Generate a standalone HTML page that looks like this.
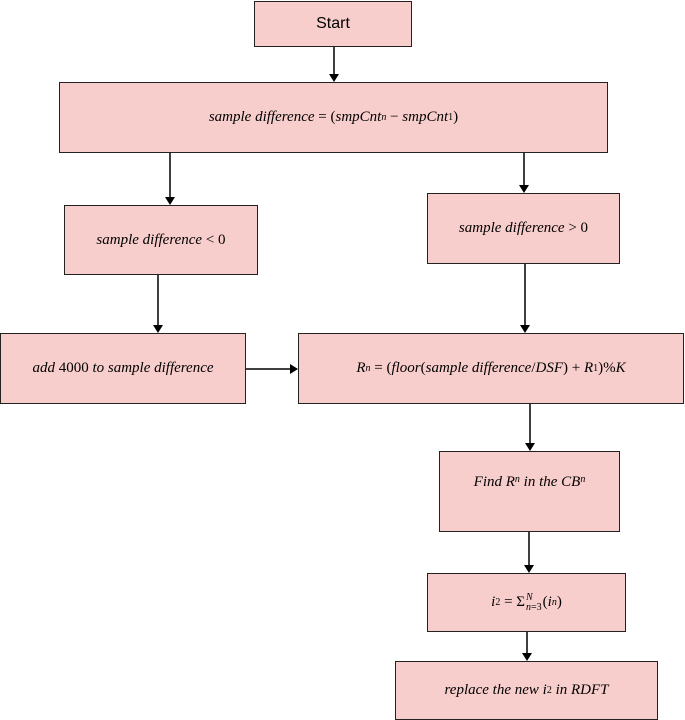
<!DOCTYPE html>
<html><head><style>
body{margin:0;width:685px;height:720px;background:#fff;position:relative;overflow:hidden;font-family:"Liberation Serif",serif;}
.b{position:absolute;box-sizing:border-box;background:#f8cecc;border:1.5px solid #222;display:flex;align-items:center;justify-content:center;font-style:italic;font-size:15px;color:#000;white-space:nowrap;}
</style></head><body>
<div class="b" style="left:254px;top:1px;width:158px;height:46px;font-style:normal;font-family:'Liberation Sans',sans-serif;font-size:16px">Start</div>
<div class="b" style="left:59px;top:82px;width:549px;height:71px">sample difference&nbsp;<span style="font-style:normal">=</span>&nbsp;<span style="font-style:normal">(</span>smpCnt<sub style="font-size:10px">n</sub>&nbsp;<span style="font-style:normal">−</span>&nbsp;smpCnt<sub style="font-size:10px;font-style:normal">1</sub><span style="font-style:normal">)</span></div>
<div class="b" style="left:64px;top:205px;width:194px;height:70px">sample difference&nbsp;<span style="font-style:normal">&lt; 0</span></div>
<div class="b" style="left:427px;top:193px;width:193px;height:71px">sample difference&nbsp;<span style="font-style:normal">&gt; 0</span></div>
<div class="b" style="left:0px;top:333px;width:246px;height:71px">add&nbsp;<span style="font-style:normal">4000</span>&nbsp;to sample difference</div>
<div class="b" style="left:298px;top:333px;width:386px;height:71px">R<sub style="font-size:10px">n</sub>&nbsp;<span style="font-style:normal">= (</span>floor<span style="font-style:normal">(</span>sample difference<span style="font-style:normal">/</span>DSF<span style="font-style:normal">) +</span>&nbsp;R<sub style="font-size:10px;font-style:normal">1</sub><span style="font-style:normal">)%</span>K</div>
<div class="b" style="left:439px;top:451px;width:181px;height:81px;align-items:flex-start;padding-top:22px">Find R<sub style="font-size:10px">n</sub>&nbsp;in the CB<sub style="font-size:10px">n</sub></div>
<div class="b" style="left:427px;top:573px;width:199px;height:59px">i<sub style="font-size:10px;font-style:normal">2</sub>&nbsp;<span style="font-style:normal">= Σ</span><span style="display:inline-flex;flex-direction:column;font-size:10px;line-height:10px;margin:0 1px"><span>N</span><span>n<span style="font-style:normal">=3</span></span></span><span style="font-style:normal">(</span>i<sub style="font-size:10px">n</sub><span style="font-style:normal">)</span></div>
<div class="b" style="left:395px;top:661px;width:263px;height:59px">replace the new i<sub style="font-size:10px;font-style:normal">2</sub>&nbsp;in RDFT</div>
<svg width="685" height="720" style="position:absolute;left:0;top:0" fill="#000" stroke="#000" stroke-width="1.5">
<line x1="334" y1="47" x2="334" y2="76"/><polygon points="329,74 339,74 334,82" stroke="none"/>
<line x1="170" y1="153" x2="170" y2="199"/><polygon points="165,197 175,197 170,205" stroke="none"/>
<line x1="524" y1="153" x2="524" y2="187"/><polygon points="519,185 529,185 524,193" stroke="none"/>
<line x1="158" y1="275" x2="158" y2="327"/><polygon points="153,325 163,325 158,333" stroke="none"/>
<line x1="525" y1="264" x2="525" y2="327"/><polygon points="520,325 530,325 525,333" stroke="none"/>
<line x1="246" y1="369" x2="292" y2="369"/><polygon points="290,364 290,374 298,369" stroke="none"/>
<line x1="530" y1="404" x2="530" y2="445"/><polygon points="525,443 535,443 530,451" stroke="none"/>
<line x1="529" y1="532" x2="529" y2="567"/><polygon points="524,565 534,565 529,573" stroke="none"/>
<line x1="527" y1="632" x2="527" y2="655"/><polygon points="522,653 532,653 527,661" stroke="none"/>
</svg>
</body></html>
